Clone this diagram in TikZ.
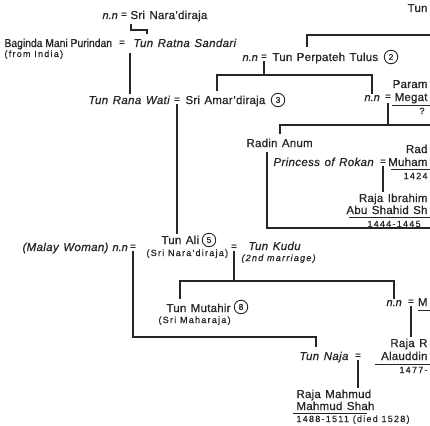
\documentclass[tikz,border=0pt]{standalone}
\usepackage{fontspec}
\usetikzlibrary{calc}
\setmainfont{Liberation Sans}[LetterSpace=2,WordSpace=1.3,FakeBold=0.7]
\newfontfamily\plainf{Liberation Sans}[FakeBold=0.7]
\newfontfamily\bagf{Liberation Sans}[FakeStretch=0.9,FakeBold=0.7]
\newfontfamily\itf{Liberation Sans}[LetterSpace=3,WordSpace=1.3,FakeBold=0.7]
\newfontfamily\smf{Liberation Sans}[LetterSpace=14,FakeBold=0.6]
\definecolor{ink}{HTML}{262626}
\tikzset{
  txt/.style={anchor=base west, inner sep=0pt, outer sep=1.5pt, text=ink, font=\fontsize{11.5}{13}\selectfont},
  txe/.style={txt, anchor=base east},
  bag/.style={txt, font=\bagf\fontsize{11.5}{13}\selectfont},
  itx/.style={txt, font=\itf\fontsize{11.5}{13}\selectfont\itshape},
  nnx/.style={txt, font=\plainf\fontsize{11}{13}\selectfont\itshape},
  sml/.style={txt, font=\smf\fontsize{9}{10}\selectfont},
  sme/.style={sml, anchor=base east},
  smi/.style={txt, font=\smf\fontsize{9}{10}\selectfont\itshape},
  eqs/.style={anchor=center, inner sep=0pt, outer sep=2pt, text=ink, font=\plainf\fontsize{10}{12}\selectfont},
  num/.style={circle, draw=ink, line width=0.9pt, inner sep=0pt, minimum size=13.5pt, text=ink, font=\plainf\fontsize{8.5}{8.5}\selectfont},
  ln/.style={draw=ink, line width=1.4pt},
  ul/.style={draw=ink, line width=1pt},
}
\begin{document}
\begin{tikzpicture}[x=1pt,y=-1pt]
\fill[white] (0,0) rectangle (430,425);
\useasboundingbox (0,0) rectangle (430,425);
% ---- nodes
\node[txe] (topTun) at (429,12) {Tun};
\node[nnx] (nn1) at (101,19) {n.n};
\node[eqs] (eq1) at (124,15) {=};
\node[txt] (srinara) at (129,19) {Sri Nara'diraja};
\node[bag] (baginda) at (3,47) {Baginda Mani Purindan};
\node[sml] (india) at (3,57) {(from India)};
\node[eqs] (eq2) at (122,43) {=};
\node[itx] (ratna) at (132,47) {Tun Ratna Sandari};
\node[nnx] (nn2) at (241,61) {n.n};
\node[eqs] (eq3) at (264,57) {=};
\node[txt] (perpateh) at (271,61) {Tun Perpateh Tulus};
\node[num] (c2) at (391,57) {2};
\node[txe] (param) at (429,88) {Param};
\node[nnx] (nn3) at (363,101) {n.n};
\node[eqs] (eq5) at (388,97) {=};
\node[txe] (megat) at (429,101) {Megat};
\node[sml] (q) at (418,114) {?};
\node[itx] (ranawati) at (87,104) {Tun Rana Wati};
\node[eqs] (eq4) at (177,100) {=};
\node[txt] (amar) at (184,104) {Sri Amar'diraja};
\node[num] (c3) at (278,100) {3};
\node[txt] (radin) at (245,147) {Radin Anum};
\node[txe] (rad) at (429,153) {Rad};
\node[itx] (princess) at (272,166) {Princess of Rokan};
\node[eqs] (eq6) at (383,162) {=};
\node[txe] (muham) at (429,166) {Muham};
\node[sme] (d1424) at (429,179) {1424};
\node[txe] (ibrahim) at (429,202) {Raja Ibrahim};
\node[txe] (abu) at (429,214) {Abu Shahid Sh};
\node[sml] (d1444) at (366,227) {1444-1445};
\node[itx, anchor=base east] (malay) at (110,251) {(Malay Woman)};
\node[nnx] (nn4) at (111,251) {n.n};
\node[eqs] (eq7) at (133,247) {=};
\node[txt] (tunali) at (160,244) {Tun Ali};
\node[num] (c5) at (209,240) {5};
\node[sml] (srinara2) at (145,256) {(Sri Nara'diraja)};
\node[eqs] (eq8) at (234,247) {=};
\node[itx] (kudu) at (247,250) {Tun Kudu};
\node[smi] (marriage) at (240,261) {(2nd marriage)};
\node[txt] (mutahir) at (165,312) {Tun Mutahir};
\node[num] (c8) at (241,307) {8};
\node[sml] (maharaja) at (157,323) {(Sri Maharaja)};
\node[nnx] (nn5) at (385,306) {n.n};
\node[eqs] (eq9) at (411,302) {=};
\node[txe] (mnode) at (429,306) {M};
\node[txe] (rajaR) at (429,347) {Raja R};
\node[itx] (naja) at (298,360) {Tun Naja};
\node[eqs] (eq10) at (358,356) {=};
\node[txe] (alauddin) at (429,360) {Alauddin};
\node[sme] (d1477) at (429,373) {1477-};
\node[txt] (rajamahmud) at (295,398) {Raja Mahmud};
\node[txt] (mahmudshah) at (295,410) {Mahmud Shah};
\node[sml] (d1488) at (295,422) {1488-1511 (died 1528)};
% ---- underlines
\draw[ul] (392,105) -- (430,105);
\draw[ul] (391,169) -- (430,169);
\draw[ul] (349,217) -- (430,217);
\draw[ul] (418,310) -- (430,310);
\draw[ul] (375,364) -- (430,364);
\draw[ul] (293,413) -- (367,413);
% ---- helper coordinates
\coordinate (edge35) at (430,35);
\coordinate (bar75) at (0,75);
\coordinate (edge125) at (430,125);
\coordinate (edge228) at (430,228);
\coordinate (bar281) at (0,281);
\coordinate (bar337) at (0,337);
\path ([xshift=2pt,yshift=-1pt]srinara.south west) coordinate (sriBot);
\path ([xshift=15pt,yshift=3pt]ratna.north west) coordinate (ratnaTop);
\path ([xshift=-2pt,yshift=-4pt]ratna.south west) coordinate (ratnaBot);
\path ([xshift=36pt,yshift=4pt]perpateh.north west) coordinate (ppTop);
\path ([xshift=33pt,yshift=3pt]amar.north west) coordinate (amarTop);
\path ([xshift=35pt,yshift=3pt]radin.north west) coordinate (radinTop);
\path ([xshift=22pt,yshift=-3pt]radin.south west) coordinate (radinBot);
\path ([xshift=15pt,yshift=3pt]mutahir.north west) coordinate (mutTop);
\path ([xshift=18pt,yshift=3pt]naja.north west) coordinate (najaTop);
% ---- connectors
\draw[ln] (sriBot) |- ($(ratnaTop)+(0,-4)$) -- (ratnaTop);
\draw[ln] (ratnaBot) -- (ratnaBot |- ranawati.north);
\draw[ln] (ppTop) |- (edge35);
\draw[ln] (eq3.south) -- (eq3.south |- bar75);
\draw[ln] (amarTop) |- (nn3.north |- bar75) -- (nn3.north);
\draw[ln] (eq4.south) -- (eq4.south |- tunali.north);
\draw[ln] ([yshift=-2pt]eq5.south) -- (eq5.south |- edge125);
\draw[ln] (radinTop) |- (edge125);
\draw[ln] (radinBot) |- (edge228);
\draw[ln] (eq6.south) -- (eq6.south |- ibrahim.north);
\draw[ln] (eq8.south) -- (eq8.south |- bar281);
\draw[ln] (mutTop) |- (nn5.north |- bar281) -- (nn5.north);
\draw[ln] (eq7.south) |- (najaTop |- bar337) -- (najaTop);
\draw[ln] (eq9.south) -- (eq9.south |- rajaR.north);
\draw[ln] (eq10.south) -- (eq10.south |- rajamahmud.north);
\end{tikzpicture}
\end{document}
